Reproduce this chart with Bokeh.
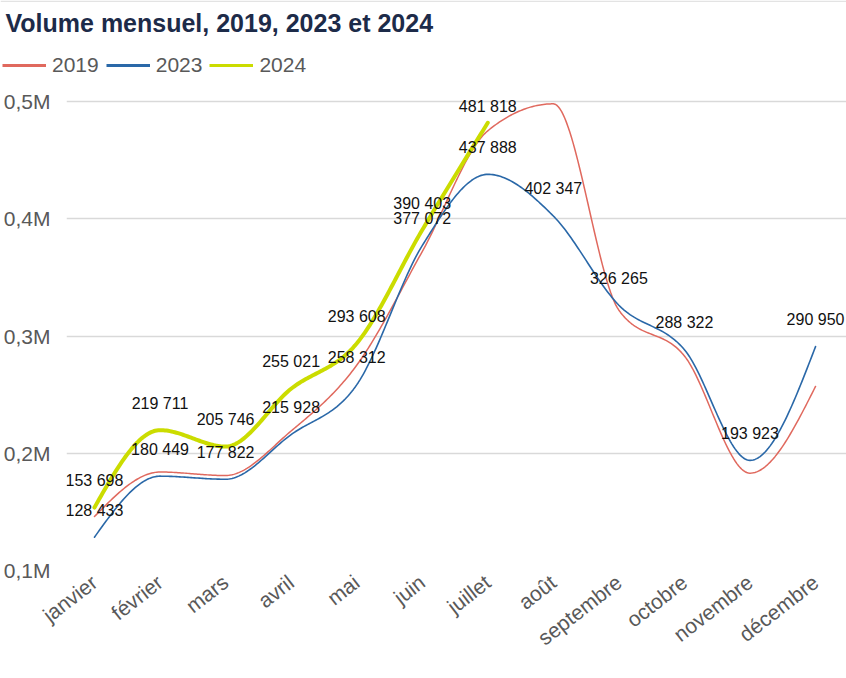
import numpy as np
from bokeh.plotting import figure
from bokeh.models import (ColumnDataSource, Label, Legend, LegendItem, FixedTicker, Span)
from bokeh.core.properties import value
from bokeh.embed import file_html
from bokeh.resources import INLINE

months = ["janvier", "février", "mars", "avril", "mai", "juin", "juillet",
          "août", "septembre", "octobre", "novembre", "décembre"]
v2019 = [146000, 184000, 181000, 219000, 275000, 372000, 475000,
         498000, 322000, 283000, 183000, 257000]
v2023 = [128433, 180449, 177822, 215928, 258312, 377072, 437888,
         402347, 326265, 288322, 193923, 290950]
v2024 = [153698, 219711, 205746, 255021, 293608, 390403, 481818]
y_ticks = [100000, 200000, 300000, 400000, 500000]
y_tick_labels = ["0,1M", "0,2M", "0,3M", "0,4M", "0,5M"]
title_text = "Volume mensuel, 2019, 2023 et 2024"
series_names = ["2019", "2023", "2024"]

C2019 = "#e0695e"
C2023 = "#2a68a8"
C2024 = "#cbdc00"
FONT = "Liberation Sans"
GRAY = "#595959"


def monotone(ys, n=40):
    """d3 curveMonotoneX on unit-spaced x."""
    y = np.asarray(ys, dtype=float)
    m = len(y)
    s = np.diff(y)
    t = np.zeros(m)
    for i in range(1, m - 1):
        s0, s1 = s[i - 1], s[i]
        p_ = (s0 + s1) / 2
        t[i] = (np.sign(s0) + np.sign(s1)) * min(abs(s0), abs(s1), 0.5 * abs(p_))
    t[0] = (3 * s[0] - t[1]) / 2
    t[-1] = (3 * s[-1] - t[-2]) / 2
    xs, out = [], []
    for i in range(m - 1):
        u = np.linspace(0, 1, n, endpoint=(i == m - 2))
        h00 = 2 * u**3 - 3 * u**2 + 1
        h10 = u**3 - 2 * u**2 + u
        h01 = -2 * u**3 + 3 * u**2
        h11 = u**3 - u**2
        out.extend(h00 * y[i] + h10 * t[i] + h01 * y[i + 1] + h11 * t[i + 1])
        xs.extend(i + u)
    return xs, out


# ---- header: title + legend (own root, full-width frame) ----
TOP_H = 89
top = figure(width=846, height=TOP_H, output_backend="svg", toolbar_location=None,
             x_range=(0, 846), y_range=(0, TOP_H), min_border=0,
             x_axis_location=None, y_axis_location=None)
top.grid.visible = False
top.outline_line_color = None
top.add_layout(Span(location=TOP_H - 0.75, dimension="width",
                    line_color="#e3e3e3", line_width=1.5))
top.add_layout(Label(x=5, y=TOP_H - 22, text=title_text,
                     text_font=FONT, text_font_size="25px", text_font_style="bold",
                     text_color="#1d2b49", text_baseline="middle"))
items = []
for name, col in zip(series_names, (C2019, C2023, C2024)):
    r = top.line(x=[np.nan], y=[np.nan], line_color=col, line_width=3)
    items.append(LegendItem(label=name, renderers=[r]))
legend = Legend(items=items, location=(2, TOP_H - 77), orientation="horizontal",
                glyph_width=44, glyph_height=22, label_height=22,
                label_standoff=6, spacing=7,
                padding=0, margin=0, border_line_color=None,
                background_fill_alpha=0,
                label_text_font=FONT, label_text_font_size="21px",
                label_text_color=GRAY)
top.add_layout(legend, "center")

# ---- main chart ----
PAD_TOP = 6  # frame extends a few px above the 0,5M line so top label is not cut
p = figure(width=846, height=678 - TOP_H, output_backend="svg", toolbar_location=None,
           x_range=(-0.4266, 11.4723), y_range=(100000, 500000 + PAD_TOP * 1000 / 1.1725),
           min_border_left=65, min_border_right=0, min_border_top=101 - TOP_H - PAD_TOP,
           min_border_bottom=108)
p.outline_line_color = None

p.xgrid.grid_line_color = None
p.ygrid.grid_line_color = "#d9d9d9"
p.ygrid.grid_line_width = 1.5
p.ygrid.ticker = FixedTicker(ticks=y_ticks)

p.yaxis.ticker = FixedTicker(ticks=y_ticks)
p.yaxis.major_label_overrides = {t: l for t, l in zip(y_ticks, y_tick_labels)}
p.xaxis.ticker = FixedTicker(ticks=list(range(len(months))))
p.xaxis.major_label_overrides = {i: m for i, m in enumerate(months)}
p.xaxis.major_label_orientation = 0.66
for ax in (p.xaxis, p.yaxis):
    ax.axis_line_color = None
    ax.major_tick_line_color = None
    ax.minor_tick_line_color = None
    ax.major_label_text_font = FONT
    ax.major_label_text_font_size = "21px"
    ax.major_label_text_color = GRAY
p.yaxis.major_label_standoff = 10
p.xaxis.major_label_standoff = 3

x_all = list(range(len(months)))
for vals, col, w in ((v2019, C2019, 1.5), (v2023, C2023, 1.6), (v2024, C2024, 4)):
    xs, ys = monotone(vals)
    p.line(xs, ys, line_color=col, line_width=w, line_cap="round", line_join="round")

# data labels (2023 and 2024)
lab_x = x_all + list(range(len(v2024)))
lab_y = v2023 + v2024
lab_t = [f"{v:,}".replace(",", " ") for v in lab_y]
offs = [-27] * len(lab_y)
offs[len(v2023) + 6] = -16  # top label kept inside the chart
src = ColumnDataSource(dict(x=lab_x, y=lab_y, t=lab_t, o=offs))
p.text(x="x", y="y", text="t", y_offset="o", source=src,
       text_font=value(FONT), text_font_size="16px", text_color="#111111",
       text_align="center", text_baseline="middle")

open("out.html", "w").write(file_html([top, p], INLINE))
